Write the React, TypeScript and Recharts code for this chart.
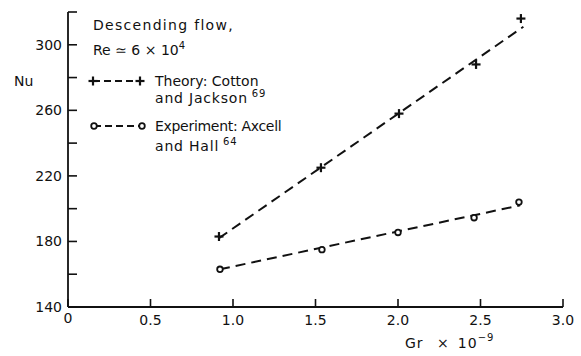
import { ComposedChart, Line, Scatter, XAxis, YAxis } from 'recharts';

const xTicks = [0, 0.5, 1, 1.5, 2, 2.5, 3];
const yTicks = [140, 160, 180, 200, 220, 240, 260, 280, 300, 320];
const yLabels = [140, 180, 220, 260, 300];

// Theory: Cotton and Jackson
const theoryPoints = [
  { gr: 0.915, nu: 183 },
  { gr: 1.533, nu: 225 },
  { gr: 2.006, nu: 258 },
  { gr: 2.473, nu: 288 },
  { gr: 2.745, nu: 316 },
];
const theoryFit = [
  { gr: 0.915, nu: 182 },
  { gr: 2.76, nu: 311 },
];

// Experiment: Axcell and Hall
const expPoints = [
  { gr: 0.921, nu: 163 },
  { gr: 1.539, nu: 175 },
  { gr: 2.0, nu: 185.5 },
  { gr: 2.461, nu: 194.5 },
  { gr: 2.733, nu: 204 },
];
const expFit = [
  { gr: 0.921, nu: 163 },
  { gr: 2.74, nu: 202 },
];

const FONT = '"DejaVu Sans", sans-serif';
const INK = '#111';

const PlusShape = (props: any) => {
  const { cx, cy } = props;
  return (
    <g stroke={INK} strokeWidth={2.2}>
      <line x1={cx - 4.5} x2={cx + 4.5} y1={cy} y2={cy} />
      <line x1={cx} x2={cx} y1={cy - 4.5} y2={cy + 4.5} />
    </g>
  );
};

const CircleShape = (props: any) => {
  const { cx, cy } = props;
  return <circle cx={cx} cy={cy} r={2.8} fill="#fff" stroke={INK} strokeWidth={1.8} />;
};

const YTick = (props: any) => {
  const { x, y, payload } = props;
  const v = payload.value;
  return (
    <g>
      <line x1={x + 6} x2={x + 15} y1={y} y2={y} stroke={INK} strokeWidth={1.6} />
      {yLabels.includes(v) && (
        <text x={x} y={y} dy="0.36em" textAnchor="end" fontFamily={FONT} fontSize={14} fill={INK}>
          {v}
        </text>
      )}
    </g>
  );
};

const XTick = (props: any) => {
  const { x, y, payload } = props;
  const v = payload.value;
  return (
    <g>
      <line x1={x} x2={x} y1={y - 8} y2={y - 16} stroke={INK} strokeWidth={1.6} />
      <text
        x={x}
        y={v === 0 ? y - 2 : y}
        dy="0.71em"
        textAnchor="middle"
        fontFamily={FONT}
        fontSize={14}
        fill={INK}
      >
        {v === 0 ? '0' : v.toFixed(1)}
      </text>
    </g>
  );
};

const txt = { fontFamily: FONT, fontSize: 14, fill: INK };

export default function App() {
  return (
    <div style={{ position: 'absolute', left: 0, top: 0, width: 581, height: 356, background: '#fff' }}>
      <ComposedChart width={581} height={356} margin={{ top: 12, right: 18, left: 0, bottom: 0 }}>
        <XAxis
          type="number"
          dataKey="gr"
          domain={[0, 3]}
          ticks={xTicks}
          height={49}
          tickSize={0}
          tickMargin={8}
          tick={<XTick />}
          axisLine={{ stroke: INK, strokeWidth: 1.8 }}
          allowDataOverflow
        />
        <YAxis
          type="number"
          dataKey="nu"
          domain={[140, 320]}
          ticks={yTicks}
          width={68}
          tickSize={0}
          tickMargin={6}
          tick={<YTick />}
          axisLine={{ stroke: INK, strokeWidth: 1.8 }}
          allowDataOverflow
        />
        <Line
          data={theoryFit}
          dataKey="nu"
          type="linear"
          stroke={INK}
          strokeWidth={2}
          strokeDasharray="10 6"
          dot={false}
          activeDot={false}
          isAnimationActive={false}
        />
        <Line
          data={expFit}
          dataKey="nu"
          type="linear"
          stroke={INK}
          strokeWidth={2}
          strokeDasharray="10 6"
          dot={false}
          activeDot={false}
          isAnimationActive={false}
        />
        <Scatter data={theoryPoints} dataKey="nu" shape={PlusShape} isAnimationActive={false} />
        <Scatter data={expPoints} dataKey="nu" shape={CircleShape} isAnimationActive={false} />
      </ComposedChart>
      <svg
        width={581}
        height={356}
        style={{ position: 'absolute', left: 0, top: 0, pointerEvents: 'none' }}
      >
        <text x={14} y={86} {...txt}>Nu</text>
        <text x={93} y={30} {...txt} letterSpacing={1.3}>Descending flow,</text>
        <text x={93} y={55} {...txt}>
          Re ≃ 6 × 10<tspan dy={-6} fontSize={10}>4</tspan>
        </text>

        <line x1={93} x2={140} y1={81} y2={81} stroke={INK} strokeWidth={2} strokeDasharray="7 4" />
        <PlusShape cx={93} cy={81} />
        <PlusShape cx={140} cy={81} />
        <text x={155} y={86} {...txt}>Theory: Cotton</text>
        <text x={155} y={103} {...txt} letterSpacing={0.8}>
          and Jackson<tspan dy={-6} fontSize={10}> 69</tspan>
        </text>

        <line x1={94} x2={141} y1={126} y2={126} stroke={INK} strokeWidth={2} strokeDasharray="7 4" />
        <CircleShape cx={94} cy={126} />
        <CircleShape cx={142} cy={126} />
        <text x={155} y={131} {...txt} letterSpacing={-0.3}>Experiment: Axcell</text>
        <text x={155} y={151} {...txt} letterSpacing={0.8}>
          and Hall<tspan dy={-6} fontSize={10}> 64</tspan>
        </text>

        <text x={405} y={348} {...txt} letterSpacing={1}>
          Gr  <tspan dx={8}>×</tspan>
          <tspan dx={8}>10</tspan>
          <tspan dy={-7} fontSize={10}>−9</tspan>
        </text>
      </svg>
    </div>
  );
}
